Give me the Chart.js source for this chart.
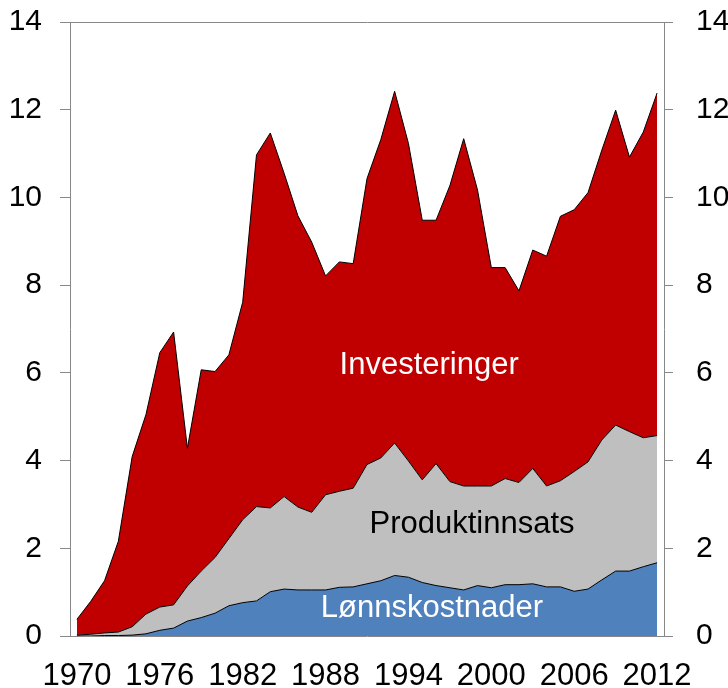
<!DOCTYPE html>
<html>
<head>
<meta charset="utf-8">
<script src="https://cdn.jsdelivr.net/npm/chart.js@4"></script>
<style>
  body { margin: 0; background: #fff; }
  canvas { display: block; }
</style>
</head>
<body>
<canvas id="chart" width="728" height="688"></canvas>
<script>
  const years = [];
  for (let y = 1970; y <= 2012; y++) years.push(String(y));

  const yTicks = [0, 2, 4, 6, 8, 10, 12, 14];

  // Lønnskostnader (bunn)
  const lonnskostnader = [0.00, 0.00, 0.01, 0.01, 0.02, 0.05, 0.13, 0.18, 0.34, 0.42,
    0.52, 0.69, 0.76, 0.80, 1.01, 1.07, 1.05, 1.05, 1.05, 1.11,
    1.12, 1.19, 1.26, 1.38, 1.34, 1.22, 1.15, 1.10, 1.05, 1.15,
    1.10, 1.17, 1.17, 1.19, 1.12, 1.12, 1.02, 1.07, 1.28, 1.48,
    1.48, 1.58, 1.67];

  // Produktinnsats
  const produktinnsats = [0.02, 0.04, 0.06, 0.08, 0.19, 0.45, 0.53, 0.53, 0.80, 1.06,
    1.27, 1.53, 1.89, 2.15, 1.91, 2.11, 1.89, 1.77, 2.17, 2.19,
    2.25, 2.72, 2.80, 3.02, 2.65, 2.34, 2.78, 2.42, 2.37, 2.27,
    2.32, 2.42, 2.33, 2.63, 2.30, 2.42, 2.73, 2.90, 3.19, 3.33,
    3.18, 2.94, 2.90];

  // Investeringer (topp)
  const investeringer = [0.36, 0.75, 1.19, 2.07, 3.88, 4.55, 5.80, 6.22, 3.14, 4.59,
    4.24, 4.19, 4.96, 8.02, 8.55, 7.37, 6.64, 6.16, 4.99, 5.23,
    5.12, 6.52, 7.26, 8.02, 7.24, 5.92, 5.55, 6.75, 7.92, 6.75,
    4.98, 4.81, 4.37, 4.98, 5.24, 6.03, 5.97, 6.14, 6.61, 7.18,
    6.26, 6.97, 7.81];

  // tekster inne i figuren: [tekst, x (årsindeks), y (verdi), farge]
  const seriesLabels = [
    ['Investeringer', 25.5, 6.18, '#ffffff'],
    ['Produktinnsats', 28.6, 2.55, '#000000'],
    ['Lønnskostnader', 25.7, 0.62, '#ffffff']
  ];

  const FONT = '"Liberation Sans", Arial, sans-serif';
  const AXIS_COLOR = '#888888';

  const areaLabels = {
    id: 'areaLabels',
    afterDatasetsDraw(chart) {
      const ctx = chart.ctx;
      const xs = chart.scales.x;
      const ys = chart.scales.y;
      ctx.save();
      ctx.font = '31px ' + FONT;
      ctx.textAlign = 'center';
      ctx.textBaseline = 'middle';
      seriesLabels.forEach(([text, xv, yv, color]) => {
        ctx.fillStyle = color;
        ctx.fillText(text, xs.getPixelForValue(xv), ys.getPixelForValue(yv));
      });
      ctx.restore();
    }
  };

  function yAxis(position, tickLength, padding, width) {
    return {
      type: 'linear',
      position: position,
      stacked: true,
      min: 0,
      max: 14,
      afterBuildTicks: scale => { scale.ticks = yTicks.map(v => ({ value: v })); },
      afterFit: scale => {
        scale.width = width;
        scale.paddingTop = 0;
        scale.paddingBottom = 0;
      },
      ticks: { color: '#000', font: { family: FONT, size: 30 }, padding: padding },
      grid: { drawOnChartArea: false, drawTicks: true, tickLength: tickLength, color: AXIS_COLOR },
      border: { display: true, color: AXIS_COLOR }
    };
  }

  new Chart(document.getElementById('chart'), {
    type: 'line',
    data: {
      labels: years,
      datasets: [
        {
          label: 'Lønnskostnader',
          data: lonnskostnader,
          backgroundColor: '#4f81bd',
          borderColor: '#000000',
          borderWidth: 1,
          fill: 'origin'
        },
        {
          label: 'Produktinnsats',
          data: produktinnsats,
          backgroundColor: '#bfbfbf',
          borderColor: '#000000',
          borderWidth: 1,
          fill: '-1'
        },
        {
          label: 'Investeringer',
          data: investeringer,
          backgroundColor: '#c00000',
          borderColor: '#000000',
          borderWidth: 1,
          fill: '-1'
        }
      ]
    },
    options: {
      responsive: false,
      animation: false,
      layout: { padding: 0 },
      elements: { point: { radius: 0 }, line: { tension: 0 } },
      plugins: { legend: { display: false }, tooltip: { enabled: false }, title: { display: false } },
      scales: {
        x: {
          type: 'category',
          position: 'bottom',
          offset: true,
          afterFit: scale => {
            scale.height = 52;
            scale.paddingLeft = 0;
            scale.paddingRight = 0;
          },
          ticks: {
            autoSkip: false,
            maxRotation: 0,
            color: '#000',
            font: { family: FONT, size: 31 },
            padding: 22,
            callback: function (value, index) {
              return index % 6 === 0 ? years[index] : null;
            }
          },
          grid: { display: false, drawTicks: false },
          border: { display: true, color: AXIS_COLOR }
        },
        xTop: {
          type: 'category',
          position: 'top',
          afterFit: scale => { scale.height = 22; },
          ticks: { display: false },
          grid: { display: false, drawTicks: false },
          border: { display: true, color: AXIS_COLOR }
        },
        y: yAxis('left', 10, 18, 70),
        y2: yAxis('right', 9, 23, 64)
      }
    },
    plugins: [areaLabels]
  });
</script>
</body>
</html>
